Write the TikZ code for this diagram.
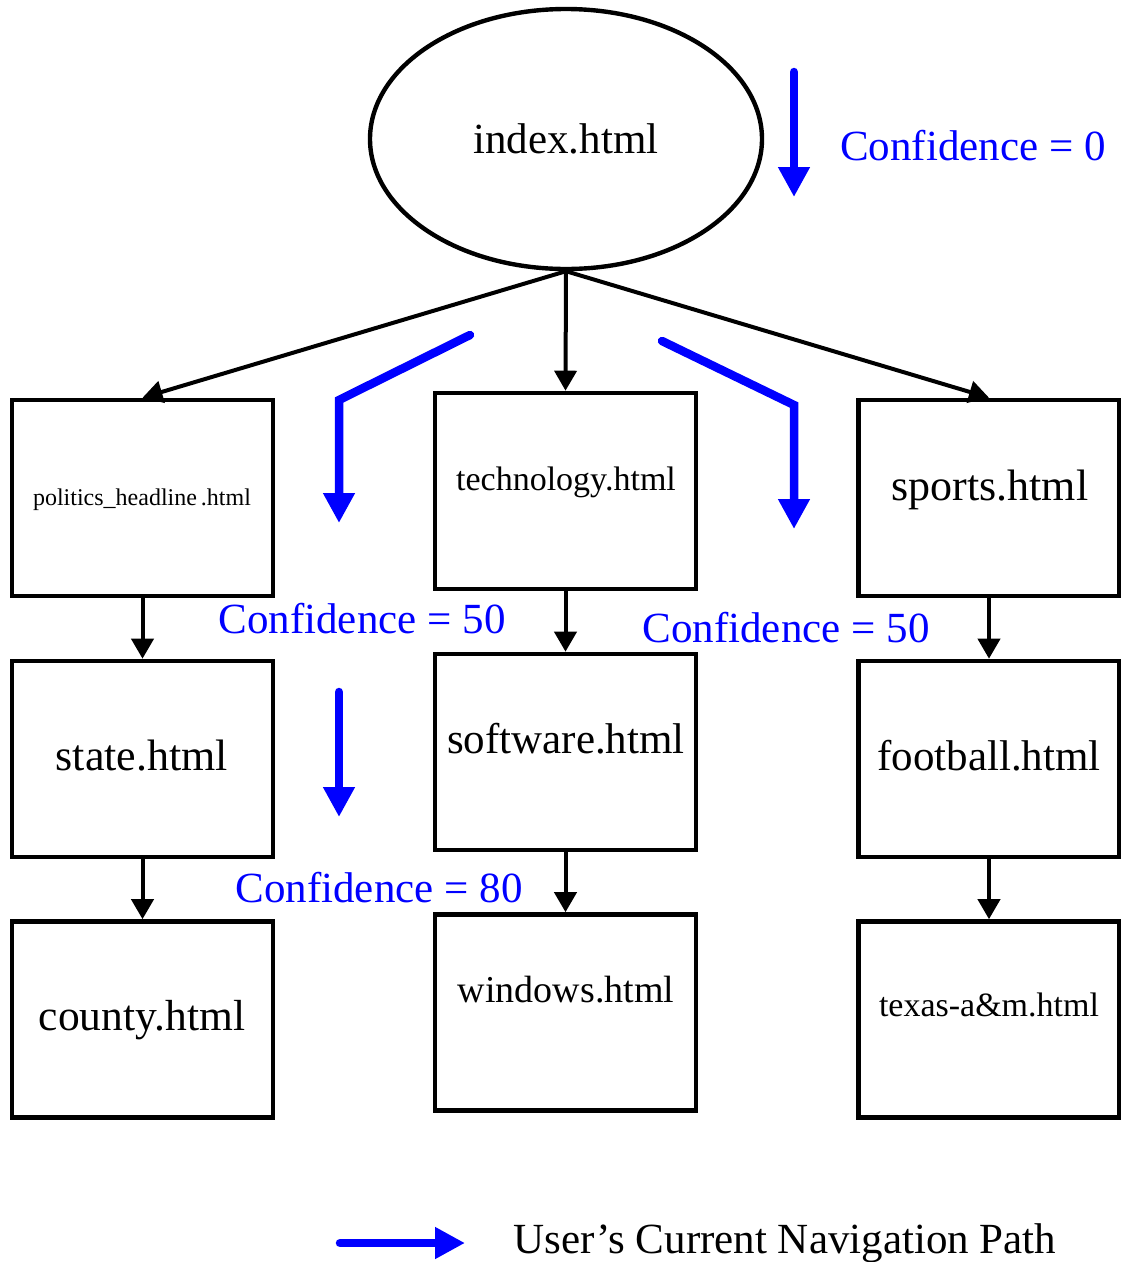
\documentclass[tikz,border=0pt]{standalone}
\usepackage{fontspec}
\setmainfont{Liberation Serif}
\usetikzlibrary{arrows.meta,shapes.geometric}
\definecolor{navblue}{RGB}{0,0,255}
\begin{document}
\begin{tikzpicture}[x=1pt,y=-1pt,
  pagebox/.style={draw,line width=4.6pt,minimum width=261pt,minimum height=196pt,inner sep=0pt},
  rootnode/.style={draw,ellipse,line width=4.4pt,minimum width=392pt,minimum height=260pt,inner sep=0pt},
  lbl/.style={anchor=base,inner sep=0pt,font=\fontsize{#1}{#1}\selectfont},
  lbl/.default=43,
  link/.style={line width=4pt,-{Triangle[length=20pt,width=22pt]}},
  navpath/.style={navblue,line width=8.5pt,line cap=round,-{Triangle[length=30pt,width=30pt]}},
  conf/.style={navblue,anchor=base,inner sep=0pt,font=\fontsize{43}{43}\selectfont}]

\useasboundingbox (0,0) rectangle (1121,1262);

% site tree
\node[rootnode] (index) at (566,139) {};
\node[lbl=43] (index-t) at (566,153) {index.html};

\node[pagebox] (pol)   at (142.5,498)  {};
\node[pagebox] (tech)  at (565.5,491)  {};
\node[pagebox] (sport) at (989,498)    {};
\node[pagebox] (state) at (142.5,759)  {};
\node[pagebox] (soft)  at (565.5,752)  {};
\node[pagebox] (foot)  at (989,759)    {};
\node[pagebox] (cnty)  at (142.5,1019.5) {};
\node[pagebox] (win)   at (565.5,1012.5) {};
\node[pagebox] (tam)   at (989,1019.5) {};

\node[lbl=24]   (pol-t)   at (142,505)  {politics\_headline\,.html};
\node[lbl=34]   (tech-t)  at (566,490)  {technology.html};
\node[lbl=44]   (sport-t) at (990,500)  {sports.html};
\node[lbl=44]   (state-t) at (142,770)  {state.html};
\node[lbl=43]   (soft-t)  at (566,753)  {software.html};
\node[lbl=43]   (foot-t)  at (989,770)  {football.html};
\node[lbl=43.5] (cnty-t)  at (142,1030) {county.html};
\node[lbl=38]   (win-t)   at (566,1002) {windows.html};
\node[lbl=34]   (tam-t)   at (989,1016) {texas-a\&m.html};

\draw[link] (index.south) -- (pol.north);
\draw[link] (index.south) -- (tech.north);
\draw[link] (index.south) -- (sport.north);
\draw[link] (pol.south)   -- (state.north);
\draw[link] (state.south) -- (cnty.north);
\draw[link] (tech.south)  -- (soft.north);
\draw[link] (soft.south)  -- (win.north);
\draw[link] (sport.south) -- (foot.north);
\draw[link] (foot.south)  -- (tam.north);

% navigation path markers
\coordinate (p0a) at (794,72);
\coordinate (p0b) at (794,197);
\coordinate (p1a) at (470,335);
\coordinate (p1c) at (339,400);
\coordinate (p1b) at (339,523);
\coordinate (p2a) at (662,341);
\coordinate (p2c) at (794,405);
\coordinate (p2b) at (794,529);
\coordinate (p3a) at (339,692);
\coordinate (p3b) at (339,817);

\draw[navpath] (p0a) -- (p0b);
\draw[navpath] (p1a) -- (p1c) -- (p1b);
\draw[navpath] (p2a) -- (p2c) -- (p2b);
\draw[navpath] (p3a) -- (p3b);

\node[conf] (c0)  at (973,160) {Confidence = 0};
\node[conf] (c1)  at (362,633) {Confidence = 50};
\node[conf] (c2)  at (786,642) {Confidence = 50};
\node[conf] (c3)  at (379,902) {Confidence = 80};

% legend
\coordinate (lg-a) at (340,1243);
\coordinate (lg-b) at (465,1243);
\draw[navpath] (lg-a) -- (lg-b);
\node[lbl=43] (lg-t) at (785,1253) {User’s Current Navigation Path};

\end{tikzpicture}
\end{document}
